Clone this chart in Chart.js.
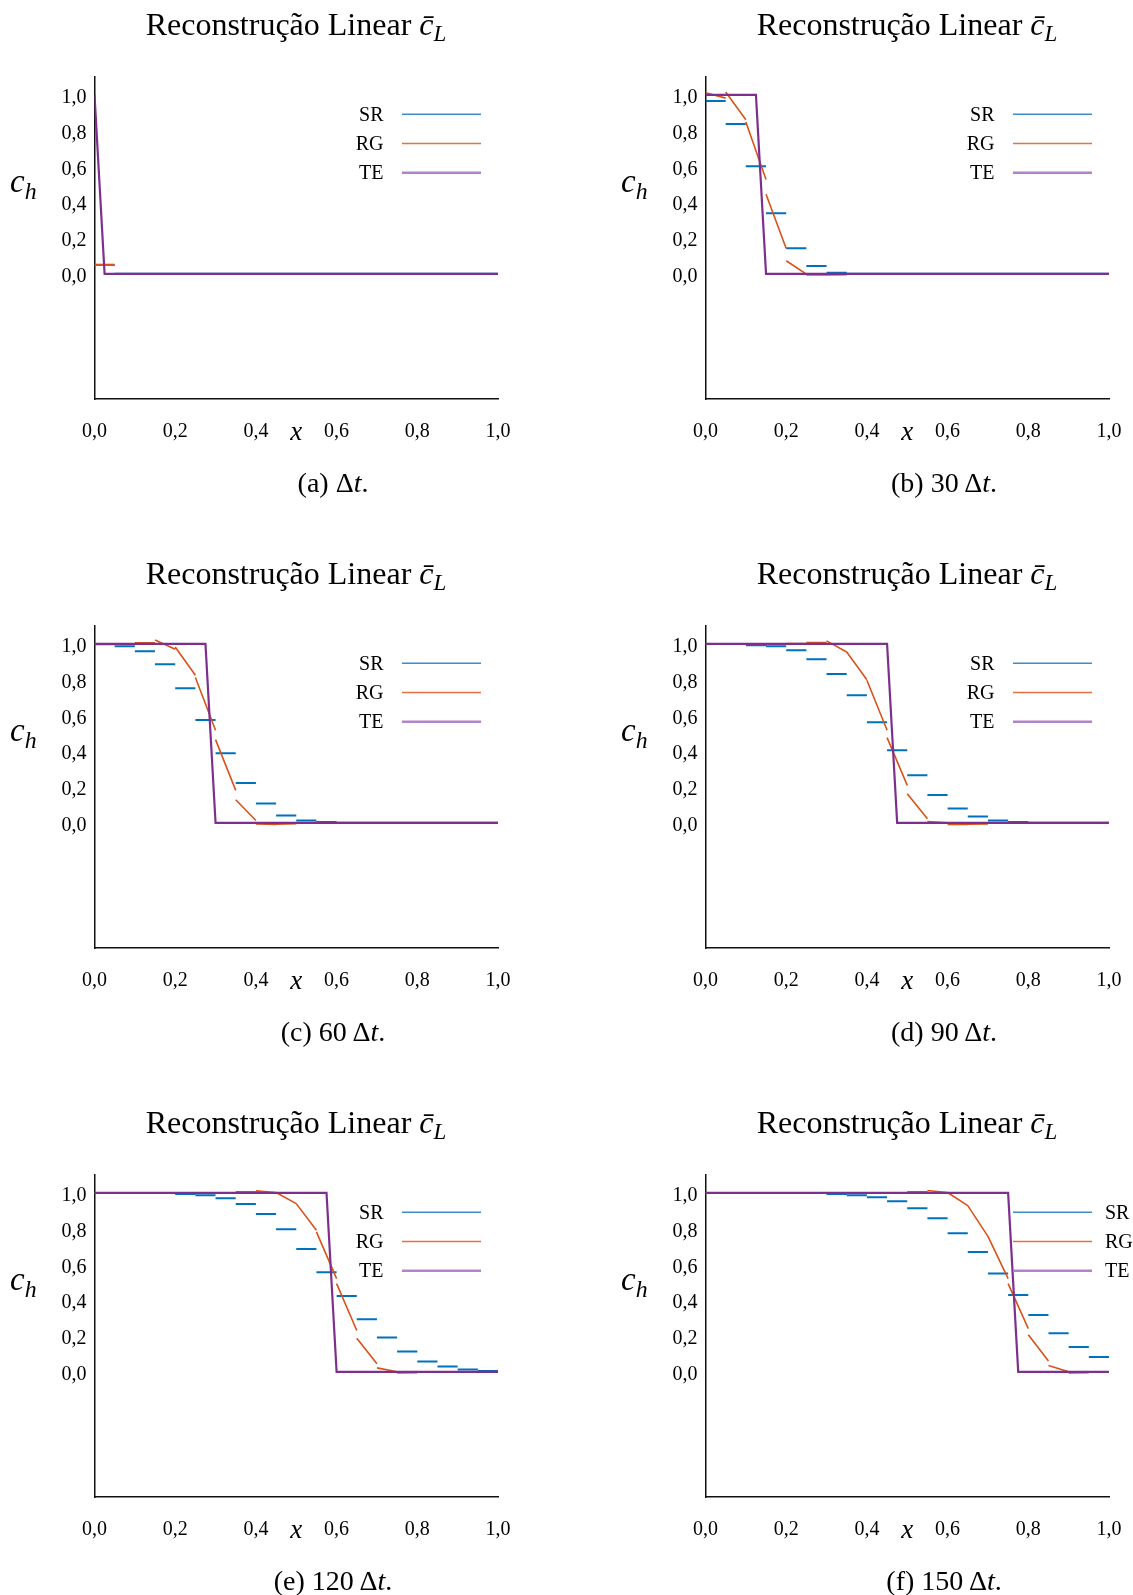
<!DOCTYPE html>
<html>
<head>
<meta charset="utf-8">
<script src="https://cdn.jsdelivr.net/npm/chart.js@4.4.0/dist/chart.umd.min.js"></script>
<style>
  body { margin: 0; background: #fff; }
  #page { position: relative; width: 1133px; height: 1595px; overflow: hidden;
          font-family: "Liberation Serif", "Times New Roman", serif; color: #000; }
  .panel { position: absolute; width: 522px; height: 549px; }
  .panel canvas { position: absolute; left: 0; top: 0; }
  .title { position: absolute; top: 4px; left: 296px; transform: translateX(-50%);
           white-space: nowrap; font-size: 32px; line-height: 40px; }
  .ylab { position: absolute; left: 10px; top: 162px; font-size: 33px; line-height: 38px; font-style: italic; }
  .caption { position: absolute; left: 333px; top: 466px; transform: translateX(-50%);
             white-space: nowrap; font-size: 28px; line-height: 34px; }
  sub { font-size: 0.72em; vertical-align: -0.28em; line-height: 0; }
</style>
</head>
<body>
<div id="page"></div>
<script>
// cell edges of the 20-cell grid
var cellEdges = [0, 0.05, 0.1, 0.15, 0.2, 0.25, 0.3, 0.35, 0.4, 0.45, 0.5,
                 0.55, 0.6, 0.65, 0.7, 0.75, 0.8, 0.85, 0.9, 0.95, 1.0];

var xTicks = [0, 0.2, 0.4, 0.5, 0.6, 0.8, 1.0];
var yTicks = [0, 0.2, 0.4, 0.6, 0.8, 1.0];

var captions = ["(a) \u0394<i>t</i>.", "(b) 30\u2009\u0394<i>t</i>.", "(c) 60\u2009\u0394<i>t</i>.",
                "(d) 90\u2009\u0394<i>t</i>.", "(e) 120\u2009\u0394<i>t</i>.", "(f) 150\u2009\u0394<i>t</i>."];

// SR: cell averages (piecewise constant)
var srA = [0.05, 0, 0, 0, 0, 0, 0, 0, 0, 0, 0, 0, 0, 0, 0, 0, 0, 0, 0, 0];
var srB = [0.966, 0.837, 0.601, 0.339, 0.143, 0.043, 0.006, 0, 0, 0, 0, 0, 0, 0, 0, 0, 0, 0, 0, 0];
var srC = [0.998, 0.987, 0.959, 0.886, 0.752, 0.575, 0.388, 0.222, 0.108, 0.041, 0.013, 0.004, 0, 0, 0, 0, 0, 0, 0, 0];
var srD = [1.0, 0.999, 0.993, 0.987, 0.965, 0.914, 0.832, 0.713, 0.562, 0.405, 0.265, 0.155, 0.080, 0.035, 0.013, 0.004, 0, 0, 0, 0];
var srE = [1, 1, 1, 1, 0.994, 0.987, 0.970, 0.938, 0.882, 0.797, 0.687, 0.556, 0.424, 0.293, 0.192, 0.114, 0.058, 0.030, 0.013, 0.004];
var srF = [1, 1, 1, 1, 1, 1, 0.994, 0.987, 0.976, 0.953, 0.914, 0.858, 0.774, 0.670, 0.550, 0.429, 0.317, 0.215, 0.138, 0.082];

// RG: linear reconstruction, value at left and right edge of each cell
var rgLeftA  = [0.05, 0, 0, 0, 0, 0, 0, 0, 0, 0, 0, 0, 0, 0, 0, 0, 0, 0, 0, 0];
var rgRightA = [0.05, 0, 0, 0, 0, 0, 0, 0, 0, 0, 0, 0, 0, 0, 0, 0, 0, 0, 0, 0];
var rgLeftB  = [1.012, 1.016, 0.848, 0.445, 0.073, -0.007, -0.007, 0, 0, 0, 0, 0, 0, 0, 0, 0, 0, 0, 0, 0];
var rgRightB = [0.982, 0.861, 0.527, 0.141, -0.002, -0.007, -0.005, 0, 0, 0, 0, 0, 0, 0, 0, 0, 0, 0, 0, 0];
var rgLeftC  = [1, 1, 1.006, 1.022, 0.983, 0.812, 0.465, 0.129, -0.006, -0.008, 0, 0, 0, 0, 0, 0, 0, 0, 0, 0];
var rgRightC = [1, 1, 1.006, 0.970, 0.825, 0.517, 0.181, 0.013, -0.009, -0.005, 0, 0, 0, 0, 0, 0, 0, 0, 0, 0];
var rgLeftD  = [1, 1, 1, 1, 1.002, 1.007, 1.017, 0.955, 0.797, 0.476, 0.162, 0.007, -0.009, -0.008, 0, 0, 0, 0, 0, 0];
var rgRightD = [1, 1, 1, 1, 1.002, 1.007, 0.955, 0.800, 0.517, 0.209, 0.022, 0.0, -0.009, -0.006, 0, 0, 0, 0, 0, 0];
var rgLeftE  = [1, 1, 1, 1, 1, 1, 1, 1.006, 1.011, 1.002, 0.940, 0.782, 0.493, 0.188, 0.022, -0.007, 0, 0, 0, 0];
var rgRightE = [1, 1, 1, 1, 1, 1, 1, 1.006, 1.002, 0.940, 0.791, 0.521, 0.231, 0.045, 0.0, -0.005, 0, 0, 0, 0];
var rgLeftF  = [1, 1, 1, 1, 1, 1, 1, 1, 1, 1, 1.006, 1.013, 1.002, 0.929, 0.757, 0.493, 0.207, 0.035, -0.007, 0];
var rgRightF = [1, 1, 1, 1, 1, 1, 1, 1, 1, 1, 1.006, 1.002, 0.929, 0.757, 0.521, 0.241, 0.060, 0.0, -0.005, 0];

// TE: exact solution (front)
var teXA = [0, 0.025, 1];         var teYA = [1, 0, 0];
var teXB = [0, 0.125, 0.15, 1];   var teYB = [1, 1, 0, 0];
var teXC = [0, 0.275, 0.30, 1];   var teYC = [1, 1, 0, 0];
var teXD = [0, 0.45, 0.475, 1];   var teYD = [1, 1, 0, 0];
var teXE = [0, 0.575, 0.60, 1];   var teYE = [1, 1, 0, 0];
var teXF = [0, 0.75, 0.775, 1];   var teYF = [1, 1, 0, 0];

var legendNames = ["SR", "RG", "TE"];
var legendColors = ["#3d8bcb", "#e8703e", "#b283c8"];
var legendWidths = [1.5, 1.5, 2.5];

var panels = [
  { sr: srA, rgL: rgLeftA, rgR: rgRightA, teX: teXA, teY: teYA },
  { sr: srB, rgL: rgLeftB, rgR: rgRightB, teX: teXB, teY: teYB },
  { sr: srC, rgL: rgLeftC, rgR: rgRightC, teX: teXC, teY: teYC },
  { sr: srD, rgL: rgLeftD, rgR: rgRightD, teX: teXD, teY: teYD },
  { sr: srE, rgL: rgLeftE, rgR: rgRightE, teX: teXE, teY: teYE },
  { sr: srF, rgL: rgLeftF, rgR: rgRightF, teX: teXF, teY: teYF, legendTextAfter: true }
];

var serif = '"Liberation Serif", "Times New Roman", serif';

var sideLegend = {
  id: 'sideLegend',
  afterDraw: function (chart, args, opts) {
    var ctx = chart.ctx, a = chart.chartArea;
    ctx.save();
    ctx.font = '20px ' + serif;
    ctx.textBaseline = 'middle';
    for (var i = 0; i < legendNames.length; i++) {
      var y = a.top + 37.3 + i * 29.2;
      ctx.strokeStyle = legendColors[i];
      ctx.lineWidth = legendWidths[i];
      ctx.beginPath();
      ctx.moveTo(a.left + 307.5, y);
      ctx.lineTo(a.left + 386.5, y);
      ctx.stroke();
      ctx.fillStyle = '#000';
      if (opts.textAfter) {
        ctx.textAlign = 'left';
        ctx.fillText(legendNames[i], a.left + 399.5, y + 1);
      } else {
        ctx.textAlign = 'right';
        ctx.fillText(legendNames[i], a.left + 289, y + 1);
      }
    }
    ctx.restore();
  }
};

function stepPoints(vals) {
  var pts = [];
  for (var i = 0; i < vals.length; i++) {
    pts.push({ x: cellEdges[i], y: vals[i] });
    pts.push({ x: cellEdges[i + 1], y: vals[i] });
    pts.push({ x: cellEdges[i + 1], y: null });
  }
  return pts;
}

function linPoints(left, right) {
  var pts = [];
  for (var i = 0; i < left.length; i++) {
    pts.push({ x: cellEdges[i], y: left[i] });
    pts.push({ x: cellEdges[i + 1], y: right[i] });
    pts.push({ x: cellEdges[i + 1], y: null });
  }
  return pts;
}

function tePoints(xs, ys) {
  return xs.map(function (x, i) { return { x: x, y: ys[i] }; });
}

function fmt(v) {
  return v.toFixed(1).replace('.', ',');
}

var page = document.getElementById('page');

panels.forEach(function (p, k) {
  var col = k % 2, row = Math.floor(k / 2);
  var div = document.createElement('div');
  div.className = 'panel';
  div.style.left = (col * 611) + 'px';
  div.style.top = (row * 549) + 'px';

  var canvas = document.createElement('canvas');
  canvas.width = 522;
  canvas.height = 470;
  canvas.style.width = '522px';
  canvas.style.height = '470px';
  div.appendChild(canvas);

  var title = document.createElement('div');
  title.className = 'title';
  title.innerHTML = 'Reconstru\u00e7\u00e3o Linear <i>c\u0304</i><sub><i>L</i></sub>';
  div.appendChild(title);

  var ylab = document.createElement('div');
  ylab.className = 'ylab';
  ylab.innerHTML = 'c<sub>h</sub>';
  div.appendChild(ylab);

  var cap = document.createElement('div');
  cap.className = 'caption';
  cap.innerHTML = captions[k];
  div.appendChild(cap);

  page.appendChild(div);

  new Chart(canvas.getContext('2d'), {
    type: 'line',
    data: {
      datasets: [
        {
          label: 'TE',
          data: tePoints(p.teX, p.teY),
          borderColor: '#7E2F8E',
          borderWidth: 2.2,
          pointRadius: 0,
          order: 1
        },
        {
          label: 'RG',
          data: linPoints(p.rgL, p.rgR),
          borderColor: '#D95319',
          borderWidth: 1.6,
          pointRadius: 0,
          spanGaps: false,
          order: 2
        },
        {
          label: 'SR',
          data: stepPoints(p.sr),
          borderColor: '#0072BD',
          borderWidth: 2,
          pointRadius: 0,
          spanGaps: false,
          order: 3
        }
      ]
    },
    options: {
      responsive: false,
      animation: false,
      devicePixelRatio: 1,
      layout: { padding: { left: 0, top: 77, right: 24, bottom: 0 } },
      plugins: {
        legend: { display: false },
        tooltip: { enabled: false },
        sideLegend: { textAfter: !!p.legendTextAfter }
      },
      scales: {
        x: {
          type: 'linear',
          min: 0,
          max: 1,
          afterFit: function (scale) {
            scale.height = 71;
            scale.paddingLeft = 0;
            scale.paddingRight = 0;
          },
          afterBuildTicks: function (scale) {
            scale.ticks = xTicks.map(function (v) { return { value: v }; });
          },
          grid: { display: false, drawTicks: false },
          border: { display: true, color: '#111', width: 1.5 },
          ticks: {
            autoSkip: false,
            maxRotation: 0,
            padding: 21,
            color: '#000',
            callback: function (value) { return value === 0.5 ? 'x' : fmt(value); },
            font: function (c) {
              if (c.tick && c.tick.value === 0.5) {
                return { family: serif, size: 27, style: 'italic', lineHeight: 0.95 };
              }
              return { family: serif, size: 20 };
            }
          }
        },
        y: {
          type: 'linear',
          min: -0.7,
          max: 1.1,
          afterFit: function (scale) { scale.width = 94.5; },
          afterBuildTicks: function (scale) {
            scale.ticks = yTicks.map(function (v) { return { value: v }; });
          },
          grid: { display: false, drawTicks: false },
          border: { display: true, color: '#111', width: 1.5 },
          ticks: {
            padding: 8,
            labelOffset: 3,
            color: '#000',
            callback: function (value) { return fmt(value); },
            font: { family: serif, size: 20 }
          }
        }
      }
    },
    plugins: [sideLegend]
  });
});
</script>
</body>
</html>
